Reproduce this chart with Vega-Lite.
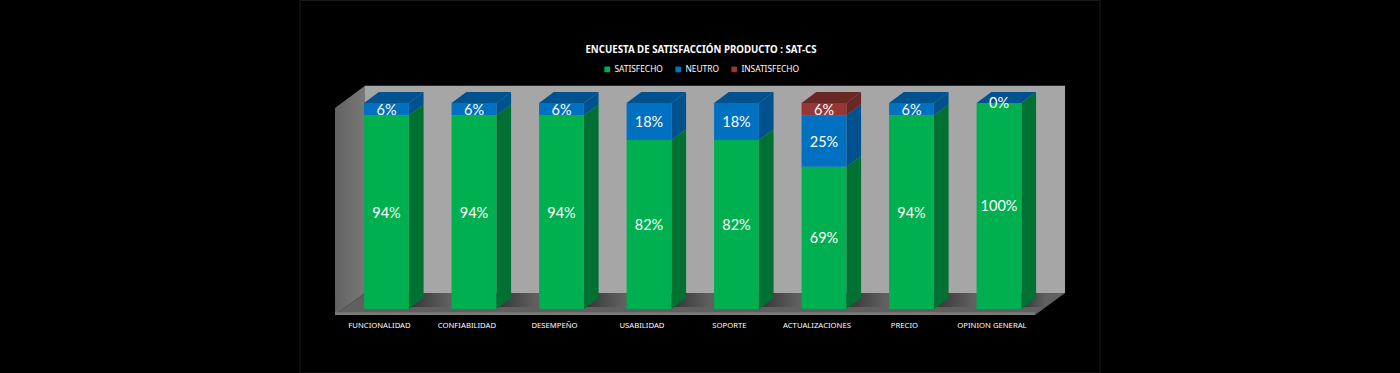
{
"$schema":"https://vega.github.io/schema/vega-lite/v6.json",
"width":1400,"height":373,"padding":0,"autosize":"none","background":"#000000",
"title":{"text":"ENCUESTA DE SATISFACCIÓN  PRODUCTO : SAT-CS","color":"#ffffff","font":"Noto Sans","fontSize":9.7,"fontWeight":"bold","anchor":"middle","offset":0,"dy":55,"dx":1},
"config":{"view":{"stroke":null}},
"datasets":{"encuesta":[
{"categoria":"FUNCIONALIDAD","serie":"SATISFECHO","orden":1,"valor":94},
{"categoria":"FUNCIONALIDAD","serie":"NEUTRO","orden":2,"valor":6},
{"categoria":"CONFIABILIDAD","serie":"SATISFECHO","orden":1,"valor":94},
{"categoria":"CONFIABILIDAD","serie":"NEUTRO","orden":2,"valor":6},
{"categoria":"DESEMPEÑO","serie":"SATISFECHO","orden":1,"valor":94},
{"categoria":"DESEMPEÑO","serie":"NEUTRO","orden":2,"valor":6},
{"categoria":"USABILIDAD","serie":"SATISFECHO","orden":1,"valor":82},
{"categoria":"USABILIDAD","serie":"NEUTRO","orden":2,"valor":18},
{"categoria":"SOPORTE","serie":"SATISFECHO","orden":1,"valor":82},
{"categoria":"SOPORTE","serie":"NEUTRO","orden":2,"valor":18},
{"categoria":"ACTUALIZACIONES","serie":"SATISFECHO","orden":1,"valor":69},
{"categoria":"ACTUALIZACIONES","serie":"NEUTRO","orden":2,"valor":25},
{"categoria":"ACTUALIZACIONES","serie":"INSATISFECHO","orden":3,"valor":6},
{"categoria":"PRECIO","serie":"SATISFECHO","orden":1,"valor":94},
{"categoria":"PRECIO","serie":"NEUTRO","orden":2,"valor":6},
{"categoria":"OPINION GENERAL","serie":"SATISFECHO","orden":1,"valor":100},
{"categoria":"OPINION GENERAL","serie":"NEUTRO","orden":2,"valor":0}
]},
"encoding":{
 "x":{"type":"quantitative","scale":{"domain":[-3.917,12.083],"nice":false,"zero":false},"axis":{"values":[0.414,1.414,2.414,3.414,4.414,5.414,6.414,7.414],"labelExpr":"['FUNCIONALIDAD','CONFIABILIDAD','DESEMPEÑO','USABILIDAD','SOPORTE','ACTUALIZACIONES','PRECIO','OPINION GENERAL'][floor(datum.value)]","title":null,"domain":false,"ticks":false,"grid":false,"labelColor":"#ffffff","labelFont":"Noto Sans","labelFontSize":7.7,"labelPadding":-52,"labelOverlap":false,"labelFlush":false}},
 "y":{"type":"quantitative","scale":{"domain":[-31.07,150],"nice":false,"zero":false},"axis":null}
},
"layer":[
{"data":{"values":[{"plano":"marco"}]},
 "mark":{"type":"rect","filled":false,"stroke":"#1c1c1c","strokeWidth":1},
 "encoding":{"x":{"datum":-0.4886},"x2":{"datum":8.654},"y":{"datum":149.8},"y2":{"datum":-31.07}}},
{"data":{"values":[{"plano":"pared lateral"}]},
 "transform":[{"calculate":"[-0.0886,0.2543]","as":"xs"},{"calculate":"[97.6,108.4]","as":"a"},{"calculate":"[-2.9,7.77]","as":"b"},{"flatten":["xs","a","b"]}],
 "mark":{"type":"area","color":{"gradient":"linear","x1":0,"y1":0,"x2":1,"y2":0,"stops":[{"offset":0,"color":"#626262"},{"offset":1,"color":"#787878"}]}},
 "encoding":{"x":{"field":"xs"},"y":{"field":"a"},"y2":{"field":"b"}}},
{"data":{"values":[{"plano":"pared"}]},
 "mark":{"type":"rect","color":"#a6a6a6"},
 "encoding":{"x":{"datum":0.2543},"x2":{"datum":8.255},"y":{"datum":108.4},"y2":{"datum":7.77}}},
{"data":{"values":[{"plano":"piso"}]},
 "transform":[{"calculate":"[-0.0886,0.2543,7.912,8.255]","as":"xs"},{"calculate":"[-2.9,7.77,7.77,7.77]","as":"a"},{"calculate":"[-2.9,-2.9,-2.9,7.77]","as":"b"},{"flatten":["xs","a","b"]}],
 "mark":{"type":"area","color":"#606060"},
 "encoding":{"x":{"field":"xs"},"y":{"field":"a"},"y2":{"field":"b"}}},
{"data":{"values":[{"plano":"borde"}]},
 "mark":{"type":"rect","color":"#7a7a7a"},
 "encoding":{"x":{"datum":-0.0886},"x2":{"datum":7.912},"y":{"datum":-1.6},"y2":{"datum":-2.9}}},
{"data":{"name":"encuesta"},
 "transform":[
  {"stack":"valor","groupby":["categoria"],"sort":[{"field":"orden","order":"ascending"}],"as":["y0","y1"]},
  {"calculate":"indexof(['FUNCIONALIDAD','CONFIABILIDAD','DESEMPEÑO','USABILIDAD','SOPORTE','ACTUALIZACIONES','PRECIO','OPINION GENERAL'],datum.categoria)","as":"i"},
  {"calculate":"datum.i+0.244","as":"x0"},{"calculate":"datum.i+0.756","as":"x1"}],
 "layer":[
  {"transform":[{"filter":"datum.orden==1"},{"calculate":"datum.x1","as":"sx0"},{"calculate":"min(datum.x1+0.45,8.03)","as":"sx1"}],
   "mark":{"type":"rect","color":{"gradient":"linear","x1":0,"y1":0,"x2":1,"y2":0,"stops":[{"offset":0,"color":"#333333"},{"offset":1,"color":"#606060"}]}},
   "encoding":{"x":{"field":"sx0"},"x2":{"field":"sx1"},"y":{"datum":7.77},"y2":{"datum":1}}},
  {"transform":[{"calculate":"[datum.x1,datum.x1+0.168]","as":"xs"},{"calculate":"[datum.y0,datum.y0+5.3]","as":"a"},{"calculate":"[datum.y1,datum.y1+5.3]","as":"b"},{"flatten":["xs","a","b"]}],
   "mark":{"type":"area"},
   "encoding":{"x":{"field":"xs"},"y":{"field":"a"},"y2":{"field":"b"},"detail":{"field":"categoria"},
    "fill":{"field":"serie","type":"nominal","scale":{"range":["#692826","#00528e","#007033"]},"legend":null}}},
  {"transform":[{"joinaggregate":[{"op":"max","field":"orden","as":"ultimo"}],"groupby":["categoria"]},{"filter":"datum.orden==datum.ultimo"},
    {"calculate":"[datum.x0,datum.x0+0.168,datum.x1,datum.x1+0.168]","as":"xs"},{"calculate":"[datum.y1,datum.y1,datum.y1,datum.y1+5.3]","as":"a"},{"calculate":"[datum.y1,datum.y1+5.3,datum.y1+5.3,datum.y1+5.3]","as":"b"},{"flatten":["xs","a","b"]}],
   "mark":{"type":"area"},
   "encoding":{"x":{"field":"xs"},"y":{"field":"a"},"y2":{"field":"b"},"detail":{"field":"categoria"},
    "fill":{"field":"serie","type":"nominal","scale":{"range":["#692826","#00528e","#007033"]},"legend":null}}},
  {"mark":{"type":"bar"},
   "encoding":{"x":{"field":"x0"},"x2":{"field":"x1"},"y":{"field":"y0"},"y2":{"field":"y1"},
    "color":{"field":"serie","type":"nominal","scale":{"domain":["SATISFECHO","NEUTRO","INSATISFECHO"],"range":["#00b050","#0070c0","#953735"]},
     "legend":{"orient":"none","legendX":603,"legendY":65,"direction":"horizontal","columns":3,"title":null,"symbolType":"square","symbolSize":32,"labelColor":"#ffffff","labelFont":"Noto Sans","labelFontSize":8.4,"labelOffset":3,"columnPadding":11,"symbolStrokeWidth":0}}}},
  {"transform":[{"calculate":"(datum.y0+datum.y1)/2","as":"medio"},{"calculate":"(datum.x0+datum.x1)/2","as":"centro"},{"calculate":"datum.valor+'%'","as":"etiqueta"}],
   "mark":{"type":"text","color":"#ffffff","font":"Lato","fontSize":14.5,"align":"center","baseline":"middle","dy":1.5},
   "encoding":{"x":{"field":"centro"},"y":{"field":"medio"},"text":{"field":"etiqueta"}}}
 ]}
]}
